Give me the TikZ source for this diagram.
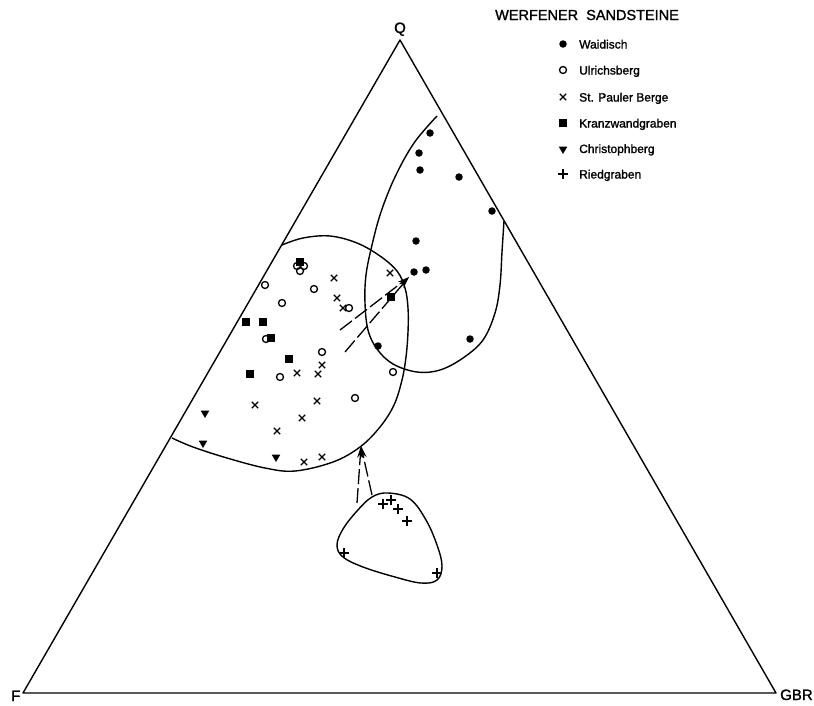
\documentclass[tikz,border=0pt]{standalone}
\usepackage{fontspec}
\setmainfont{Liberation Sans}
\newfontfamily\plotfont{Liberation Sans}[FakeBold=1.4]
\usetikzlibrary{arrows.meta,shapes.geometric,shapes.misc}
\begin{document}
\begin{tikzpicture}[x=1pt,y=-1pt,
  frame/.style={line width=1.4pt,line join=round},
  outline/.style={line width=1.4pt},
  trend/.style={line width=1.3pt,dash pattern=on 15pt off 4pt,-{Stealth[length=12pt,width=6pt]}},
  corner/.style={font=\fontsize{15}{15}\plotfont,inner sep=0pt,anchor=base west},
  legtext/.style={font=\fontsize{12}{12}\plotfont,inner sep=0pt,anchor=base west},
  wdot/.style={circle,fill,inner sep=0pt,minimum size=7.5pt},
  uring/.style={circle,draw,line width=1.3pt,inner sep=0pt,minimum size=7pt},
  spx/.style={cross out,draw,line width=1.3pt,inner sep=0pt,minimum size=5pt},
  ksq/.style={rectangle,fill,inner sep=0pt,minimum size=7.5pt},
  ctri/.style={regular polygon,regular polygon sides=3,shape border rotate=180,fill,inner sep=0pt,minimum size=10pt},
  rplus/.style={cross out,draw,rotate=45,line width=1.3pt,inner sep=0pt,minimum size=5.5pt}]
\useasboundingbox (0,0) rectangle (814,705);

% ternary frame
\coordinate (Fc) at (23,693);
\coordinate (Qc) at (400,40);
\coordinate (Gc) at (776,693);
\draw[frame] (Fc) -- (Qc) -- (Gc) -- cycle;
\node[corner] (qlab) at (394,33) {Q};
\node[corner] (flab) at (11,701) {F};
\node[corner] (glab) at (780,700) {GBR};

% title and legend
\node[font=\fontsize{14.5}{14.5}\plotfont,inner sep=0pt,anchor=base west] (title) at (495,20) {WERFENER\ \ SANDSTEINE};
\node[wdot]  (lw) at (563,44) {};  \node[legtext] (tw) at (579,48.5) {Waidisch};
\node[uring] (lu) at (563,70) {};  \node[legtext] (tu) at (579,74.5) {Ulrichsberg};
\node[spx]   (ls) at (563,97) {};  \node[legtext] (ts) at (579,101.5) {St. Pauler Berge};
\node[ksq]   (lk) at (563,123) {}; \node[legtext] (tk) at (579,127.5) {Kranzwandgraben};
\node[ctri]  (lc) at (563,149) {}; \node[legtext] (tc) at (579,153) {Christophberg};
\node[rplus] (lr) at (563,174) {}; \node[legtext] (tr) at (579,178.5) {Riedgraben};

% field of Waidisch (open towards the Q-GBR side)
\draw[outline] plot[smooth,tension=0.6] coordinates {
  (437,116) (414,143) (395,177) (381,212) (372,245) (366,275) (365,303)
  (368,330) (377,349) (393,364) (417,372) (440,370) (463,358) (483,340)
  (495,313) (500,285) (502,252) (504,221)};

% field of the western localities (open towards the Q-F side)
\draw[outline] plot[smooth,tension=0.6] coordinates {
  (282,245) (303,238) (330,236) (357,243) (380,256) (397,271) (405,288)
  (408,308) (408,332) (406,357) (402,380) (394,405) (380,427) (360,447)
  (333,462) (295,471) (265,468) (227,458) (193,447) (172,438)};

% field of Riedgraben
\draw[outline] plot[smooth cycle,tension=0.62] coordinates {
  (388,493) (410,499) (426,520) (437,545) (442,566) (437,580) (421,583)
  (395,577) (363,567) (343,557) (337,545) (343,529) (357,511) (372,497)};

% trend arrows
\coordinate (ua) at (340,330);
\coordinate (ub) at (345,352);
\coordinate (ut) at (409,277);
\draw[trend] (ua) -- (ut);
\draw[trend] (ub) -- (ut);
\coordinate (la) at (357,503);
\coordinate (lb) at (372,495);
\coordinate (lt) at (361,446);
\draw[trend] (la) -- (lt);
\draw[trend] (lb) -- (lt);

% Waidisch
\foreach \x/\y [count=\i] in {430/133,419/153,420/170,459/177,492/211,416/241,
  414/272,426/270,378/346,470/339}
  \node[wdot] (w\i) at (\x,\y) {};
% Ulrichsberg
\foreach \x/\y [count=\i] in {297/266,304/266,300/271,265/285,314/289,282/303,
  349/308,266/339,322/352,280/377,355/398,393/372}
  \node[uring] (u\i) at (\x,\y) {};
% Kranzwandgraben
\foreach \x/\y [count=\i] in {300/262,246/322,263/322,271/338,289/359,250/374,391/297}
  \node[ksq] (k\i) at (\x,\y) {};
% St. Pauler Berge
\foreach \x/\y [count=\i] in {334/278,337/298,343/308,390/273,322/365,318/374,
  297/373,317/401,255/405,302/418,277/431,304/462,322/457}
  \node[spx] (s\i) at (\x,\y) {};
% Christophberg
\foreach \x/\y [count=\i] in {205/413,203/443,276/457}
  \node[ctri] (c\i) at (\x,\y) {};
% Riedgraben
\foreach \x/\y [count=\i] in {383/504,391/500,398/509,407/521,344/553,437/573}
  \node[rplus] (r\i) at (\x,\y) {};
\end{tikzpicture}
\end{document}
